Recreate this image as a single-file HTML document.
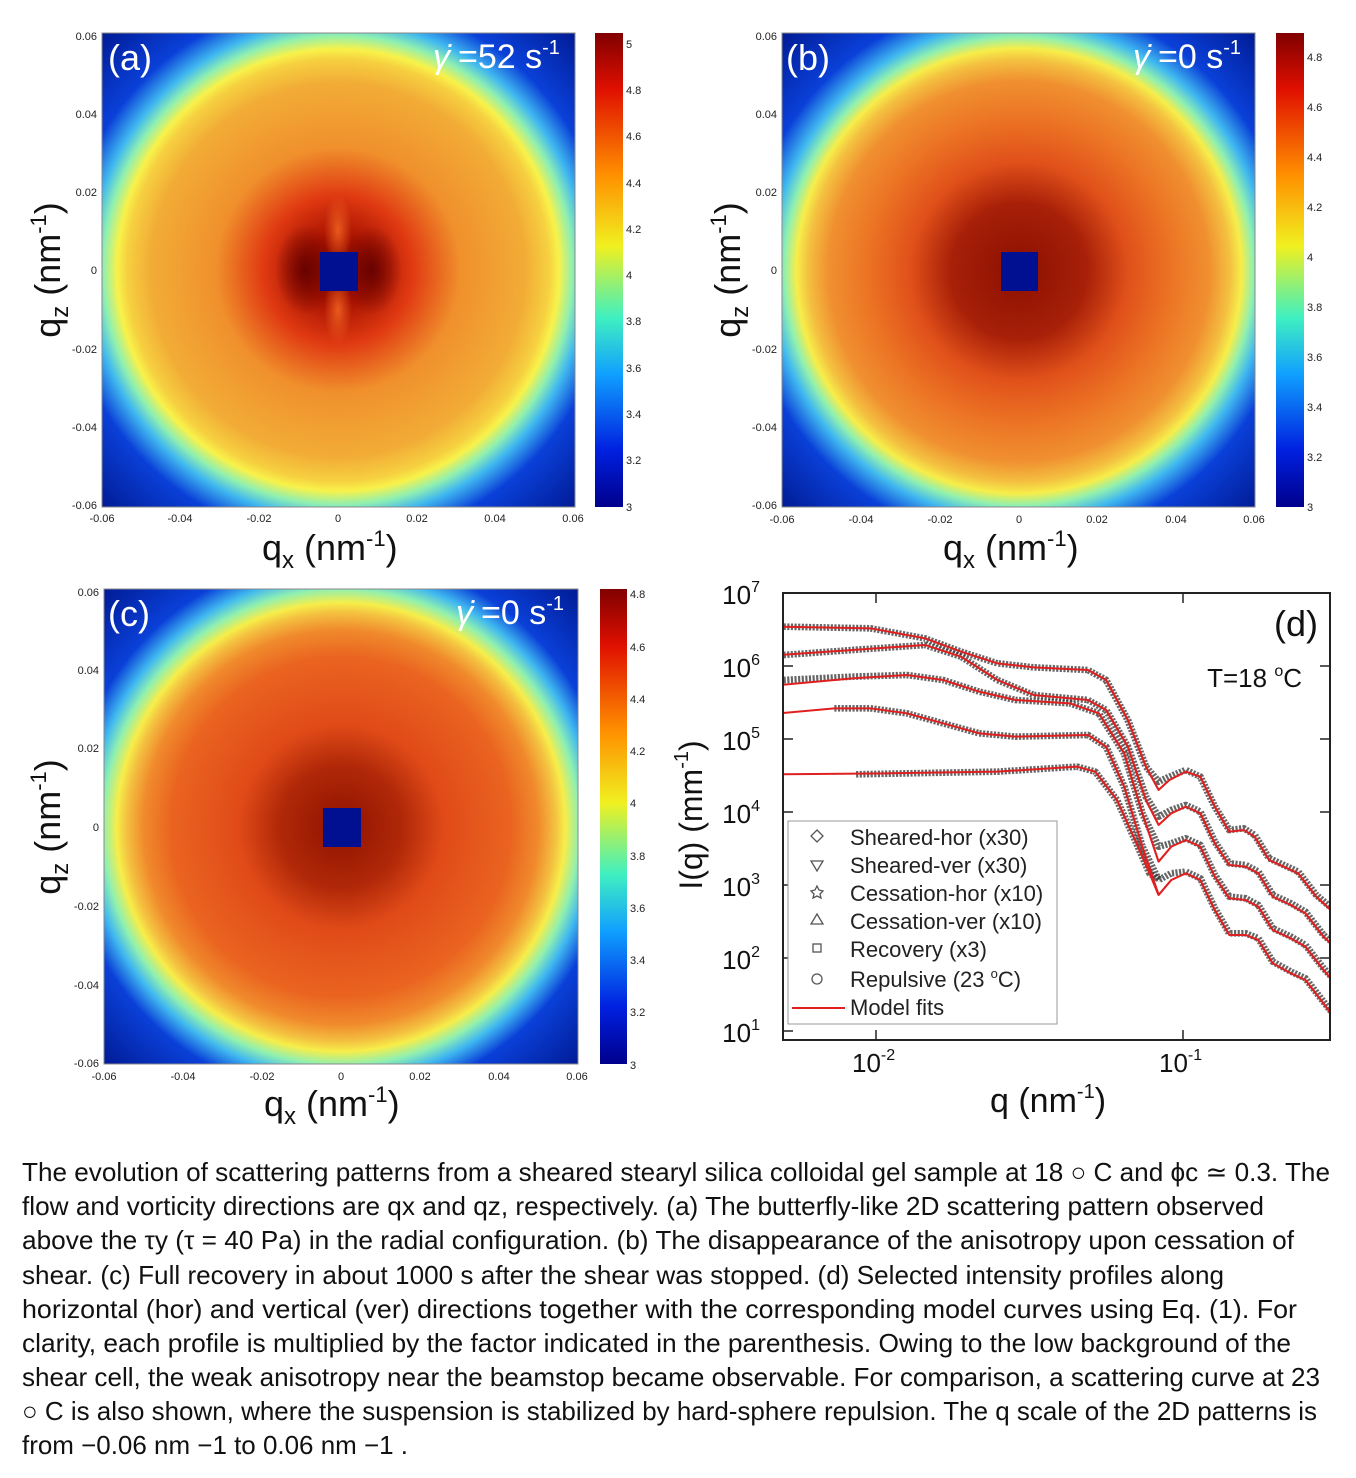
<!DOCTYPE html>
<html><head><meta charset="utf-8"><style>
html,body{margin:0;padding:0;background:#fff;}
svg{display:block;}
</style></head><body>
<svg width="1356" height="1478" viewBox="0 0 1356 1478" xmlns="http://www.w3.org/2000/svg" font-family="Liberation Sans, sans-serif">
<defs>
<clipPath id="cd"><rect x="783" y="593" width="547" height="447"/></clipPath>
<radialGradient id="ga" gradientUnits="userSpaceOnUse" cx="338" cy="270" r="340">
<stop offset="0" stop-color="#7a0800"/><stop offset="0.1" stop-color="#a81200"/>
<stop offset="0.22" stop-color="#e03a12"/><stop offset="0.36" stop-color="#f0902c"/>
<stop offset="0.55" stop-color="#f2ac36"/><stop offset="0.62" stop-color="#f6d040"/>
<stop offset="0.65" stop-color="#f8f24a"/><stop offset="0.69" stop-color="#90f0b0"/>
<stop offset="0.73" stop-color="#40b8f0"/><stop offset="0.8" stop-color="#0a40d8"/>
<stop offset="1" stop-color="#001890"/></radialGradient>
<radialGradient id="gb" gradientUnits="userSpaceOnUse" cx="1019" cy="271" r="340">
<stop offset="0" stop-color="#8a1000"/><stop offset="0.2" stop-color="#a82008"/>
<stop offset="0.32" stop-color="#e0501a"/><stop offset="0.45" stop-color="#ec7424"/>
<stop offset="0.56" stop-color="#f09030"/><stop offset="0.62" stop-color="#f4c040"/>
<stop offset="0.655" stop-color="#f6ee4a"/><stop offset="0.69" stop-color="#90f0b0"/>
<stop offset="0.73" stop-color="#40b8f0"/><stop offset="0.8" stop-color="#0a40d8"/>
<stop offset="1" stop-color="#001890"/></radialGradient>
<radialGradient id="gc" gradientUnits="userSpaceOnUse" cx="341" cy="827" r="340">
<stop offset="0" stop-color="#901200"/><stop offset="0.18" stop-color="#b02808"/>
<stop offset="0.3" stop-color="#e04a18"/><stop offset="0.5" stop-color="#ea6420"/>
<stop offset="0.58" stop-color="#f08a2c"/><stop offset="0.63" stop-color="#f4c040"/>
<stop offset="0.66" stop-color="#f6ee4a"/><stop offset="0.7" stop-color="#90f0b0"/>
<stop offset="0.74" stop-color="#40b8f0"/><stop offset="0.8" stop-color="#0a40d8"/>
<stop offset="1" stop-color="#001890"/></radialGradient>
<linearGradient id="jet" x1="0" y1="0" x2="0" y2="1">
<stop offset="0" stop-color="#800000"/><stop offset="0.12" stop-color="#e01000"/>
<stop offset="0.3" stop-color="#ff9000"/><stop offset="0.45" stop-color="#f0f020"/>
<stop offset="0.6" stop-color="#40f0c0"/><stop offset="0.72" stop-color="#10a0ff"/>
<stop offset="0.88" stop-color="#0020e0"/><stop offset="1" stop-color="#00008c"/></linearGradient>
<radialGradient id="dk" cx="0.5" cy="0.5" r="0.5"><stop offset="0" stop-color="#600000" stop-opacity="0.9"/><stop offset="1" stop-color="#600000" stop-opacity="0"/></radialGradient>
<radialGradient id="lt" cx="0.5" cy="0.5" r="0.5"><stop offset="0" stop-color="#f06020" stop-opacity="0.9"/><stop offset="1" stop-color="#f06020" stop-opacity="0"/></radialGradient>
</defs>

<!-- Panel a -->
<rect x="102" y="33" width="473" height="474" fill="url(#ga)"/>
<ellipse cx="305" cy="270" rx="30" ry="45" fill="url(#dk)"/>
<ellipse cx="372" cy="270" rx="30" ry="45" fill="url(#dk)"/>
<ellipse cx="338" cy="230" rx="14" ry="35" fill="url(#lt)"/>
<ellipse cx="338" cy="310" rx="14" ry="35" fill="url(#lt)"/>
<rect x="320" y="252" width="38" height="39" fill="#001090"/>
<rect x="102" y="33" width="473" height="474" fill="none" stroke="#888" stroke-width="1"/>
<text x="108" y="70" font-size="36" fill="#fff">(a)</text>
<text x="433" y="68" font-size="34" fill="#fff" font-style="italic">γ̇</text><text x="458" y="68" font-size="34" fill="#fff">=52 s<tspan font-size="20" dy="-14">-1</tspan></text>
<rect x="595" y="33" width="28" height="474" fill="url(#jet)"/>
<g font-size="11" fill="#222">
<text x="626" y="48">5</text><text x="626" y="94">4.8</text><text x="626" y="140">4.6</text><text x="626" y="187">4.4</text><text x="626" y="233">4.2</text><text x="626" y="279">4</text><text x="626" y="325">3.8</text><text x="626" y="372">3.6</text><text x="626" y="418">3.4</text><text x="626" y="464">3.2</text><text x="626" y="511">3</text>
<g text-anchor="end"><text x="97" y="40">0.06</text><text x="97" y="118">0.04</text><text x="97" y="196">0.02</text><text x="97" y="274">0</text><text x="97" y="353">-0.02</text><text x="97" y="431">-0.04</text><text x="97" y="509">-0.06</text></g>
<g text-anchor="middle"><text x="102" y="522">-0.06</text><text x="180" y="522">-0.04</text><text x="259" y="522">-0.02</text><text x="338" y="522">0</text><text x="417" y="522">0.02</text><text x="495" y="522">0.04</text><text x="573" y="522">0.06</text></g>
</g>
<text x="262" y="560" font-size="36" fill="#111">q<tspan font-size="24" dy="8">x</tspan><tspan dy="-8"> (nm</tspan><tspan font-size="22" dy="-14">-1</tspan><tspan dy="14">)</tspan></text>
<text transform="translate(60,270) rotate(-90)" text-anchor="middle" font-size="36" fill="#111">q<tspan font-size="24" dy="8">z</tspan><tspan dy="-8"> (nm</tspan><tspan font-size="22" dy="-14">-1</tspan><tspan dy="14">)</tspan></text>

<!-- Panel b -->
<rect x="782" y="33" width="473" height="474" fill="url(#gb)"/>
<rect x="1001" y="252" width="37" height="39" fill="#001090"/>
<rect x="782" y="33" width="473" height="474" fill="none" stroke="#888" stroke-width="1"/>
<text x="786" y="70" font-size="36" fill="#fff">(b)</text>
<text x="1133" y="68" font-size="34" fill="#fff" font-style="italic">γ̇</text><text x="1158" y="68" font-size="34" fill="#fff">=0 s<tspan font-size="20" dy="-14">-1</tspan></text>
<rect x="1276" y="33" width="28" height="474" fill="url(#jet)"/>
<g font-size="11" fill="#222">
<text x="1307" y="61">4.8</text><text x="1307" y="111">4.6</text><text x="1307" y="161">4.4</text><text x="1307" y="211">4.2</text><text x="1307" y="261">4</text><text x="1307" y="311">3.8</text><text x="1307" y="361">3.6</text><text x="1307" y="411">3.4</text><text x="1307" y="461">3.2</text><text x="1307" y="511">3</text>
<g text-anchor="end"><text x="777" y="40">0.06</text><text x="777" y="118">0.04</text><text x="777" y="196">0.02</text><text x="777" y="274">0</text><text x="777" y="353">-0.02</text><text x="777" y="431">-0.04</text><text x="777" y="509">-0.06</text></g>
<g text-anchor="middle"><text x="782" y="523">-0.06</text><text x="861" y="523">-0.04</text><text x="940" y="523">-0.02</text><text x="1019" y="523">0</text><text x="1097" y="523">0.02</text><text x="1176" y="523">0.04</text><text x="1254" y="523">0.06</text></g>
</g>
<text x="943" y="560" font-size="36" fill="#111">q<tspan font-size="24" dy="8">x</tspan><tspan dy="-8"> (nm</tspan><tspan font-size="22" dy="-14">-1</tspan><tspan dy="14">)</tspan></text>
<text transform="translate(740,270) rotate(-90)" text-anchor="middle" font-size="36" fill="#111">q<tspan font-size="24" dy="8">z</tspan><tspan dy="-8"> (nm</tspan><tspan font-size="22" dy="-14">-1</tspan><tspan dy="14">)</tspan></text>

<!-- Panel c -->
<rect x="104" y="589" width="474" height="475" fill="url(#gc)"/>
<rect x="323" y="808" width="38" height="39" fill="#001090"/>
<rect x="104" y="589" width="474" height="475" fill="none" stroke="#888" stroke-width="1"/>
<text x="108" y="626" font-size="36" fill="#fff">(c)</text>
<text x="456" y="624" font-size="34" fill="#fff" font-style="italic">γ̇</text><text x="481" y="624" font-size="34" fill="#fff">=0 s<tspan font-size="20" dy="-14">-1</tspan></text>
<rect x="600" y="589" width="27" height="475" fill="url(#jet)"/>
<g font-size="11" fill="#222">
<text x="630" y="598">4.8</text><text x="630" y="651">4.6</text><text x="630" y="703">4.4</text><text x="630" y="755">4.2</text><text x="630" y="807">4</text><text x="630" y="860">3.8</text><text x="630" y="912">3.6</text><text x="630" y="964">3.4</text><text x="630" y="1016">3.2</text><text x="630" y="1069">3</text>
<g text-anchor="end"><text x="99" y="596">0.06</text><text x="99" y="674">0.04</text><text x="99" y="752">0.02</text><text x="99" y="831">0</text><text x="99" y="910">-0.02</text><text x="99" y="989">-0.04</text><text x="99" y="1067">-0.06</text></g>
<g text-anchor="middle"><text x="104" y="1080">-0.06</text><text x="183" y="1080">-0.04</text><text x="262" y="1080">-0.02</text><text x="341" y="1080">0</text><text x="420" y="1080">0.02</text><text x="499" y="1080">0.04</text><text x="577" y="1080">0.06</text></g>
</g>
<text x="264" y="1116" font-size="36" fill="#111">q<tspan font-size="24" dy="8">x</tspan><tspan dy="-8"> (nm</tspan><tspan font-size="22" dy="-14">-1</tspan><tspan dy="14">)</tspan></text>
<text transform="translate(60,827) rotate(-90)" text-anchor="middle" font-size="36" fill="#111">q<tspan font-size="24" dy="8">z</tspan><tspan dy="-8"> (nm</tspan><tspan font-size="22" dy="-14">-1</tspan><tspan dy="14">)</tspan></text>

<!-- Panel d -->
<g clip-path="url(#cd)">
<g transform="translate(780,580) scale(0.3623,0.3333)" fill="none" stroke-linejoin="round">
<g stroke="#333" stroke-opacity="0.75" stroke-width="20" stroke-dasharray="6 4">
<polyline points="10,140 250,145 400,175 500,215 600,250 700,262 850,270 900,300 960,420 1010,560 1045,605 1075,590 1120,570 1160,590 1200,680 1240,750 1280,745 1310,765 1350,835 1400,860 1430,875 1480,945 1540,1000"/>
<polyline points="10,225 200,210 400,195 500,230 600,300 700,345 850,360 900,390 960,500 1010,650 1045,710 1080,690 1120,675 1160,695 1200,785 1240,850 1285,855 1320,875 1360,945 1410,970 1450,995 1500,1065 1540,1100"/>
<polyline points="10,300 200,290 350,285 450,300 550,335 650,360 800,370 880,400 950,520 1000,700 1045,800 1080,790 1120,775 1160,795 1200,885 1240,950 1285,955 1320,975 1360,1045 1410,1070 1450,1095 1500,1165 1540,1210"/>
<polyline points="150,385 250,385 350,400 450,430 550,460 650,470 850,465 900,500 950,620 1000,800 1045,900 1080,880 1120,875 1160,895 1200,985 1240,1060 1285,1060 1320,1075 1360,1145 1410,1175 1450,1195 1500,1265 1540,1320"/>
<polyline points="210,583 600,575 820,560 870,575 930,660 980,780 1020,880 1050,900"/>
</g>
<g stroke="#e02020" stroke-width="6">
<polyline points="0,140 250,145 400,175 500,215 600,250 700,262 850,270 900,300 960,420 1010,560 1045,630 1075,600 1120,575 1160,590 1200,680 1240,755 1280,750 1310,770 1350,840 1400,865 1430,880 1480,950 1540,1010"/>
<polyline points="0,225 200,210 400,195 500,230 600,300 700,345 850,360 900,390 960,500 1010,660 1045,735 1080,700 1120,680 1160,700 1200,790 1240,855 1285,860 1320,880 1360,950 1410,975 1450,1000 1500,1070 1540,1110"/>
<polyline points="0,315 200,295 350,285 450,300 550,335 650,360 800,370 880,400 950,520 1000,700 1045,845 1080,800 1120,780 1160,800 1200,890 1240,955 1285,960 1320,980 1360,1050 1410,1075 1450,1100 1500,1170 1540,1220"/>
<polyline points="0,400 150,385 250,385 350,400 450,430 550,460 650,470 850,465 900,500 950,620 1000,800 1045,945 1080,900 1120,880 1160,900 1200,990 1240,1065 1285,1065 1320,1080 1360,1150 1410,1180 1450,1200 1500,1270 1540,1330"/>
<polyline points="0,583 300,580 600,575 820,560 870,575 930,660 980,780 1020,880 1045,945"/>
</g>
</g>
</g>
<rect x="783" y="593" width="547" height="447" fill="none" stroke="#222" stroke-width="2"/>
<g stroke="#222" stroke-width="1.5">
<line x1="876" y1="593" x2="876" y2="603"/><line x1="1183" y1="593" x2="1183" y2="603"/>
<line x1="876" y1="1040" x2="876" y2="1030"/><line x1="1183" y1="1040" x2="1183" y2="1030"/>
<line x1="783" y1="666" x2="793" y2="666"/><line x1="783" y1="739" x2="793" y2="739"/><line x1="783" y1="812" x2="793" y2="812"/><line x1="783" y1="885" x2="793" y2="885"/><line x1="783" y1="958" x2="793" y2="958"/><line x1="783" y1="1031" x2="793" y2="1031"/>
<line x1="1330" y1="666" x2="1320" y2="666"/><line x1="1330" y1="739" x2="1320" y2="739"/><line x1="1330" y1="812" x2="1320" y2="812"/><line x1="1330" y1="885" x2="1320" y2="885"/><line x1="1330" y1="958" x2="1320" y2="958"/>
</g>
<rect x="788" y="821" width="269" height="203" fill="#fff" stroke="#999" stroke-width="1"/>
<g font-size="22" fill="#222">
<text x="850" y="845">Sheared-hor (x30)</text>
<text x="850" y="873">Sheared-ver (x30)</text>
<text x="850" y="901">Cessation-hor (x10)</text>
<text x="850" y="929">Cessation-ver (x10)</text>
<text x="850" y="957">Recovery (x3)</text>
<text x="850" y="987">Repulsive (23 <tspan font-size="13" dy="-9">o</tspan><tspan dy="9">C)</tspan></text>
<text x="850" y="1015">Model fits</text>
</g>
<g fill="none" stroke="#555" stroke-width="1.3">
<path d="M817,830 l6,6 l-6,6 l-6,-6z"/><path d="M811,861 h12 l-6,10z"/>
<path d="M817,886 l2,4 l4,1 l-3,3 l1,4 l-4,-2 l-4,2 l1,-4 l-3,-3 l4,-1z"/>
<path d="M817,914 l6,10 h-12z"/><rect x="813" y="944" width="8" height="8"/><circle cx="817" cy="979" r="5"/>
</g>
<line x1="792" y1="1008" x2="845" y2="1008" stroke="#e02020" stroke-width="2"/>
<text x="1318" y="636" font-size="36" fill="#111" text-anchor="end">(d)</text>
<text x="1302" y="687" font-size="26" fill="#111" text-anchor="end">T=18 <tspan font-size="16" dy="-11">o</tspan><tspan dy="11">C</tspan></text>
<g font-size="26" fill="#111" text-anchor="end">
<text x="760" y="604">10<tspan font-size="16" dy="-12">7</tspan></text>
<text x="760" y="677">10<tspan font-size="16" dy="-12">6</tspan></text>
<text x="760" y="750">10<tspan font-size="16" dy="-12">5</tspan></text>
<text x="760" y="823">10<tspan font-size="16" dy="-12">4</tspan></text>
<text x="760" y="896">10<tspan font-size="16" dy="-12">3</tspan></text>
<text x="760" y="969">10<tspan font-size="16" dy="-12">2</tspan></text>
<text x="760" y="1042">10<tspan font-size="16" dy="-12">1</tspan></text>
</g>
<text x="852" y="1072" font-size="26" fill="#111">10<tspan font-size="16" dy="-12">-2</tspan></text>
<text x="1159" y="1072" font-size="26" fill="#111">10<tspan font-size="16" dy="-12">-1</tspan></text>
<text x="990" y="1112" font-size="34" fill="#111">q (nm<tspan font-size="20" dy="-14">-1</tspan><tspan dy="14">)</tspan></text>
<text transform="translate(702,815) rotate(-90)" text-anchor="middle" font-size="32" fill="#111">I(q) (mm<tspan font-size="20" dy="-14">-1</tspan><tspan dy="14">)</tspan></text>

<!-- Caption -->
<g font-size="26" fill="#111" font-family="Liberation Sans, DejaVu Sans, sans-serif">
<text x="22" y="1181" textLength="1308" lengthAdjust="spacingAndGlyphs">The evolution of scattering patterns from a sheared stearyl silica colloidal gel sample at 18 ○ C and ϕc ≃ 0.3. The</text>
<text x="22" y="1215" textLength="1242" lengthAdjust="spacingAndGlyphs">flow and vorticity directions are qx and qz, respectively. (a) The butterfly-like 2D scattering pattern observed</text>
<text x="22" y="1249" textLength="1272" lengthAdjust="spacingAndGlyphs">above the τy (τ = 40 Pa) in the radial configuration. (b) The disappearance of the anisotropy upon cessation of</text>
<text x="22" y="1284" textLength="1202" lengthAdjust="spacingAndGlyphs">shear. (c) Full recovery in about 1000 s after the shear was stopped. (d) Selected intensity profiles along</text>
<text x="22" y="1318" textLength="1275" lengthAdjust="spacingAndGlyphs">horizontal (hor) and vertical (ver) directions together with the corresponding model curves using Eq. (1). For</text>
<text x="22" y="1352" textLength="1269" lengthAdjust="spacingAndGlyphs">clarity, each profile is multiplied by the factor indicated in the parenthesis. Owing to the low background of the</text>
<text x="22" y="1386" textLength="1298" lengthAdjust="spacingAndGlyphs">shear cell, the weak anisotropy near the beamstop became observable. For comparison, a scattering curve at 23</text>
<text x="22" y="1420" textLength="1295" lengthAdjust="spacingAndGlyphs">○ C is also shown, where the suspension is stabilized by hard-sphere repulsion. The q scale of the 2D patterns is</text>
<text x="22" y="1454" textLength="386" lengthAdjust="spacingAndGlyphs">from −0.06 nm −1 to 0.06 nm −1 .</text>
</g>
</svg>
</body></html>
